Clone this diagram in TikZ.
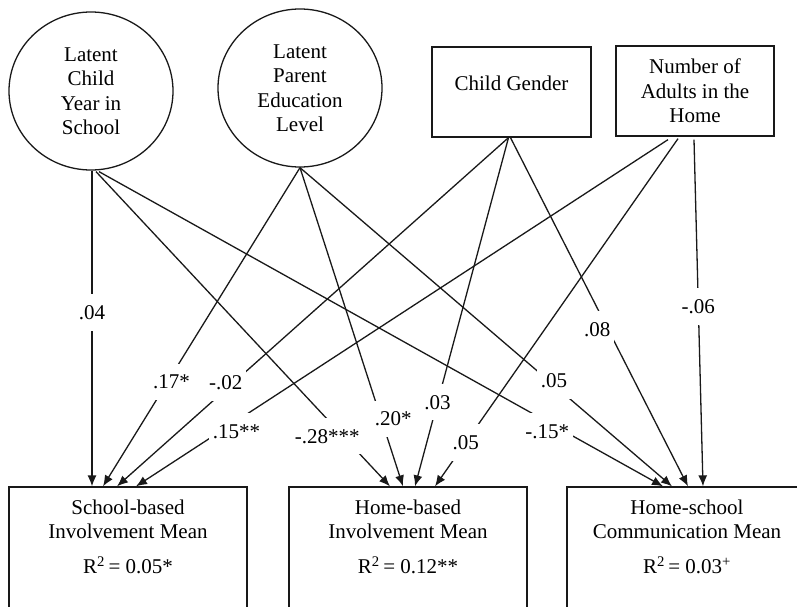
\documentclass[tikz,border=0pt]{standalone}
\usepackage{fontspec}
\setmainfont{Liberation Serif}
\usetikzlibrary{arrows.meta,shapes.geometric,calc}
\begin{document}
\begin{tikzpicture}[x=1pt,y=-1pt,
  every node/.style={font=\fontsize{21}{24.5}\selectfont,text=black},
  ell/.style={ellipse,draw=black!90,line width=1.3pt,minimum width=164pt,minimum height=158pt,inner sep=0pt,align=center},
  boxnode/.style={draw=black!90,line width=1.3pt,inner sep=0pt},
  txt/.style={align=center,inner sep=0pt},
  conn/.style={draw=black!90,line width=1.3pt,-{Latex[length=11pt,width=9pt]}},
  lab/.style={fill=white,inner xsep=4pt,inner ysep=11pt}]
\useasboundingbox (0,0) rectangle (797,607);
\clip (0,0) rectangle (797,607);
% top nodes
\node[ell] (c1) at (91,91) {Latent\\Child\\Year in\\School};
\node[ell] (c2) at (300,88) {Latent\\Parent\\Education\\Level};
\node[boxnode,minimum width=159pt,minimum height=90pt] (cg) at (511.5,92) {};
\node[txt] (cgt) at (511.5,83) {Child Gender};
\node[boxnode,minimum width=158pt,minimum height=90pt,align=center] (na) at (695,91) {Number of\\Adults in the\\Home};
% bottom nodes
\node[boxnode,minimum width=238pt,minimum height=200pt] (b1) at (128,587) {};
\node[boxnode,minimum width=238pt,minimum height=200pt] (b2) at (408,587) {};
\node[boxnode,minimum width=240pt,minimum height=200pt] (b3) at (687,587) {};
\node[txt] (b1t) at (128,537) {School-based\\Involvement Mean\\[10.5pt]R\textsuperscript{2}\,= 0.05*};
\node[txt] (b2t) at (408,537) {Home-based\\Involvement Mean\\[10.5pt]R\textsuperscript{2}\,= 0.12**};
\node[txt] (b3t) at (687,537) {Home-school\\Communication Mean\\[10.5pt]R\textsuperscript{2}\,= 0.03\textsuperscript{+}};
% start points
\coordinate (s11) at ($(c1.south)+(1,0)$);
\coordinate (s12) at ($(c1.south)+(5,1)$);
\coordinate (s13) at ($(c1.south)+(8,1)$);
\coordinate (s2) at (c2.south);
\coordinate (sg) at ($(cg.south)+(-3,0)$);
\coordinate (sg3) at ($(cg.south)+(-1,0)$);
\coordinate (sa1) at ($(na.south)+(-27,3)$);
\coordinate (sa2) at ($(na.south)+(-17,2)$);
\coordinate (sa3) at ($(na.south)+(-1,3)$);
% end points
\coordinate (e11) at ($(b1.north)+(-36,0)$);
\coordinate (e12) at ($(b1.north)+(-25,0)$);
\coordinate (e13) at ($(b1.north)+(-11,0)$);
\coordinate (e14) at ($(b1.north)+(8,0)$);
\coordinate (e21) at ($(b2.north)+(-18,0)$);
\coordinate (e22) at ($(b2.north)+(-5,0)$);
\coordinate (e23) at ($(b2.north)+(7,0)$);
\coordinate (e24) at ($(b2.north)+(27,0)$);
\coordinate (e31) at ($(b3.north)+(-24,0)$);
\coordinate (e32) at ($(b3.north)+(-15,0)$);
\coordinate (e33) at ($(b3.north)+(1,0)$);
\coordinate (e34) at ($(b3.north)+(16,0)$);
% connectors
\draw[conn] (s11) -- (e11);
\draw[conn] (s2) -- (e12);
\draw[conn] (sg) -- (e13);
\draw[conn] (sa1) -- (e14);
\draw[conn] (s12) -- (e21);
\draw[conn] (s2) -- (e22);
\draw[conn] (sg) -- (e23);
\draw[conn] (sa2) -- (e24);
\draw[conn] (s13) -- (e31);
\draw[conn] (s2) -- (e32);
\draw[conn] (sg3) -- (e33);
\draw[conn] (sa3) -- (e34);
% labels
\path (s11) -- node[lab,pos=0.449] (l1) {.04} (e11);
\path (s2) -- node[lab,pos=0.672,xshift=4pt] (l2) {.17*} (e12);
\path (sg) -- node[lab,pos=0.702,xshift=-8pt] (l3) {-.02} (e13);
\path (sa1) -- node[lab,pos=0.841,xshift=16pt] (l4) {.15**} (e14);
\path (s12) -- node[lab,pos=0.841,xshift=-16pt] (l5) {-.28***} (e21);
\path (s2) -- node[lab,pos=0.789,xshift=12pt] (l6) {.20*} (e22);
\path (sg) -- node[lab,pos=0.759] (l7) {.03} (e23);
\path (sa2) -- node[lab,pos=0.874] (l8) {.05} (e24);
\path (s13) -- node[lab,pos=0.825,xshift=-17pt] (l9) {-.15*} (e31);
\path (s2) -- node[lab,pos=0.669,xshift=5pt] (l10) {.05} (e32);
\path (sg3) -- node[lab,pos=0.55,xshift=-11pt] (l11) {.08} (e33);
\path (sa3) -- node[lab,pos=0.481] (l12) {-.06} (e34);
\end{tikzpicture}
\end{document}
